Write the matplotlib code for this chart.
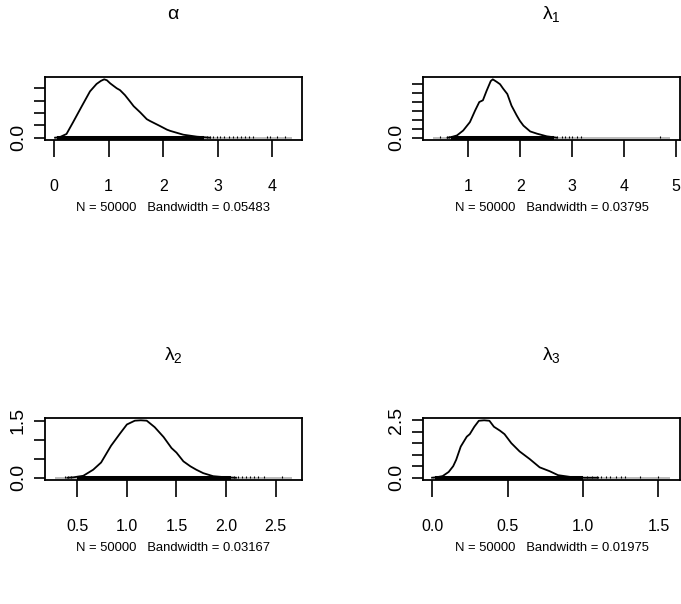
import matplotlib
matplotlib.use("Agg")
import matplotlib.pyplot as plt

FONT = "Liberation Sans"
plt.rcParams["font.family"] = [FONT, "DejaVu Sans"]
plt.rcParams["mathtext.fontset"] = "custom"
plt.rcParams["mathtext.rm"] = "Liberation Sans"
plt.rcParams["mathtext.it"] = "Liberation Sans"

titles = [r"$\mathrm{\alpha}$", r"$\mathrm{\lambda}_1$", r"$\mathrm{\lambda}_2$", r"$\mathrm{\lambda}_3$"]
xlabels = ["N = 50000   Bandwidth = 0.05483", "N = 50000   Bandwidth = 0.03795",
           "N = 50000   Bandwidth = 0.03167", "N = 50000   Bandwidth = 0.01975"]

# density curves
alpha_x = [0.02, 0.11, 0.23, 0.35, 0.51, 0.66, 0.78, 0.86, 0.92, 0.97, 1.03, 1.15, 1.21, 1.30, 1.39,
           1.46, 1.58, 1.70, 1.76, 1.94, 2.07, 2.13, 2.37, 2.62, 2.86]
alpha_y = [0.0, 0.01, 0.06, 0.25, 0.51, 0.75, 0.87, 0.92, 0.945, 0.93, 0.88, 0.80, 0.77, 0.69, 0.59,
           0.51, 0.41, 0.30, 0.27, 0.19, 0.13, 0.11, 0.048, 0.016, 0.0]
lam1_x = [0.60, 0.68, 0.78, 0.90, 1.03, 1.13, 1.21, 1.28, 1.35, 1.43, 1.47, 1.55, 1.61, 1.67, 1.75,
          1.83, 1.93, 1.99, 2.06, 2.19, 2.32, 2.51, 2.70]
lam1_y = [0.0, 0.016, 0.05, 0.16, 0.35, 0.61, 0.80, 0.84, 1.05, 1.27, 1.31, 1.25, 1.20, 1.10, 0.98,
          0.72, 0.50, 0.38, 0.27, 0.14, 0.09, 0.03, 0.0]
lam2_x = [0.40, 0.46, 0.56, 0.66, 0.74, 0.84, 0.93, 1.00, 1.08, 1.14, 1.20, 1.28, 1.37, 1.45, 1.50,
          1.57, 1.64, 1.70, 1.77, 1.87, 2.00, 2.10]
lam2_y = [0.0, 0.01, 0.05, 0.21, 0.40, 0.84, 1.16, 1.40, 1.50, 1.51, 1.50, 1.33, 1.07, 0.78, 0.66,
          0.43, 0.30, 0.21, 0.12, 0.04, 0.01, 0.0]
lam3_x = [0.00, 0.03, 0.07, 0.11, 0.14, 0.16, 0.19, 0.23, 0.25, 0.28, 0.31, 0.345, 0.38, 0.41, 0.45,
          0.48, 0.525, 0.58, 0.647, 0.713, 0.78, 0.835, 0.92, 1.01, 1.10]
lam3_y = [0.00, 0.02, 0.07, 0.25, 0.50, 0.78, 1.35, 1.78, 1.89, 2.21, 2.47, 2.49, 2.47, 2.21, 2.04,
          1.89, 1.50, 1.14, 0.81, 0.45, 0.28, 0.11, 0.03, 0.00, 0.00]

# observation rug: full range, dense band, sparse ticks
rug_range = [(0.01, 4.37), (0.31, 4.89), (0.27, 2.67), (0.003, 1.58)]
rug_dense = [(0.05, 2.75), (0.66, 2.65), (0.50, 2.05), (0.02, 1.00)]
rug_sparse = [
    [2.8, 2.86, 2.92, 2.98, 3.05, 3.12, 3.2, 3.28, 3.35, 3.42, 3.5, 3.58, 3.65, 3.9, 3.96, 4.08, 4.24],
    [0.46, 0.58, 0.62, 2.70, 2.80, 2.86, 2.93, 2.99, 3.09, 3.17, 4.68],
    [0.376, 0.41, 0.44, 2.08, 2.12, 2.16, 2.2, 2.24, 2.28, 2.32, 2.38, 2.56],
    [1.03, 1.06, 1.09, 1.12, 1.15, 1.18, 1.22, 1.25, 1.28, 1.38, 1.50],
]

xticks = [[0, 1, 2, 3, 4], [1, 2, 3, 4, 5], [0.5, 1.0, 1.5, 2.0, 2.5], [0.0, 0.5, 1.0, 1.5]]
xticklabels = [["0", "1", "2", "3", "4"], ["1", "2", "3", "4", "5"],
               ["0.5", "1.0", "1.5", "2.0", "2.5"], ["0.0", "0.5", "1.0", "1.5"]]
yticks = [[0, 0.2, 0.4, 0.6, 0.8], [0, 0.2, 0.4, 0.6, 0.8, 1.0, 1.2],
          [0, 0.5, 1.0, 1.5], [0, 0.5, 1.0, 1.5, 2.0, 2.5]]
yticklabels = [["0.0", "", "", "", ""], ["0.0", "", "", "", "", "", ""],
               ["0.0", "", "", "1.5"], ["0.0", "", "", "", "", "2.5"]]

curves = [(alpha_x, alpha_y), (lam1_x, lam1_y), (lam2_x, lam2_y), (lam3_x, lam3_y)]

W, H = 681, 604
fig = plt.figure(figsize=(W / 100, H / 100), dpi=100)
boxes = [(45, 77, 302, 140), (423, 77, 680, 140), (45, 418, 302, 480), (423, 418, 680, 480)]

for i in range(4):
    l, t, r, b = boxes[i]
    ax = fig.add_axes([l / W, 1 - b / H, (r - l) / W, (b - t) / H])
    x, y = curves[i]
    lo, hi = rug_range[i]
    span = hi - lo
    ax.set_xlim(lo - 0.04 * span, hi + 0.04 * span)
    m = max(y)
    ax.set_ylim(-0.04 * m, 1.04 * m)
    # rug
    ax.plot([lo, hi], [0, 0], color="#a8a8a8", lw=1.1, solid_capstyle="butt", zorder=1)
    d0, d1 = rug_dense[i]
    ax.plot([d0, d1], [0.0, 0.0], color="black", lw=2.9, solid_capstyle="butt", zorder=2)
    ax.vlines(rug_sparse[i], -0.01 * m, 0.025 * m, color="black", lw=0.8, zorder=2)
    ax.plot(x, y, color="black", lw=1.3, zorder=3)

    for s in ax.spines.values():
        s.set_linewidth(1.3)
    ax.set_xticks(xticks[i])
    ax.set_xticklabels(xticklabels[i], fontsize=11.5)
    ax.set_yticks(yticks[i])
    ax.set_yticklabels(yticklabels[i], fontsize=14, rotation=90, va="center")
    ax.tick_params(axis="x", length=12, width=1.2, pad=16)
    ax.tick_params(axis="y", length=8, width=1.2, pad=5)
    ax.set_xlabel(xlabels[i], fontsize=9.4, labelpad=6)
    ax.set_title(titles[i], fontsize=14, pad=42)

fig.savefig("out.png", dpi=100)
